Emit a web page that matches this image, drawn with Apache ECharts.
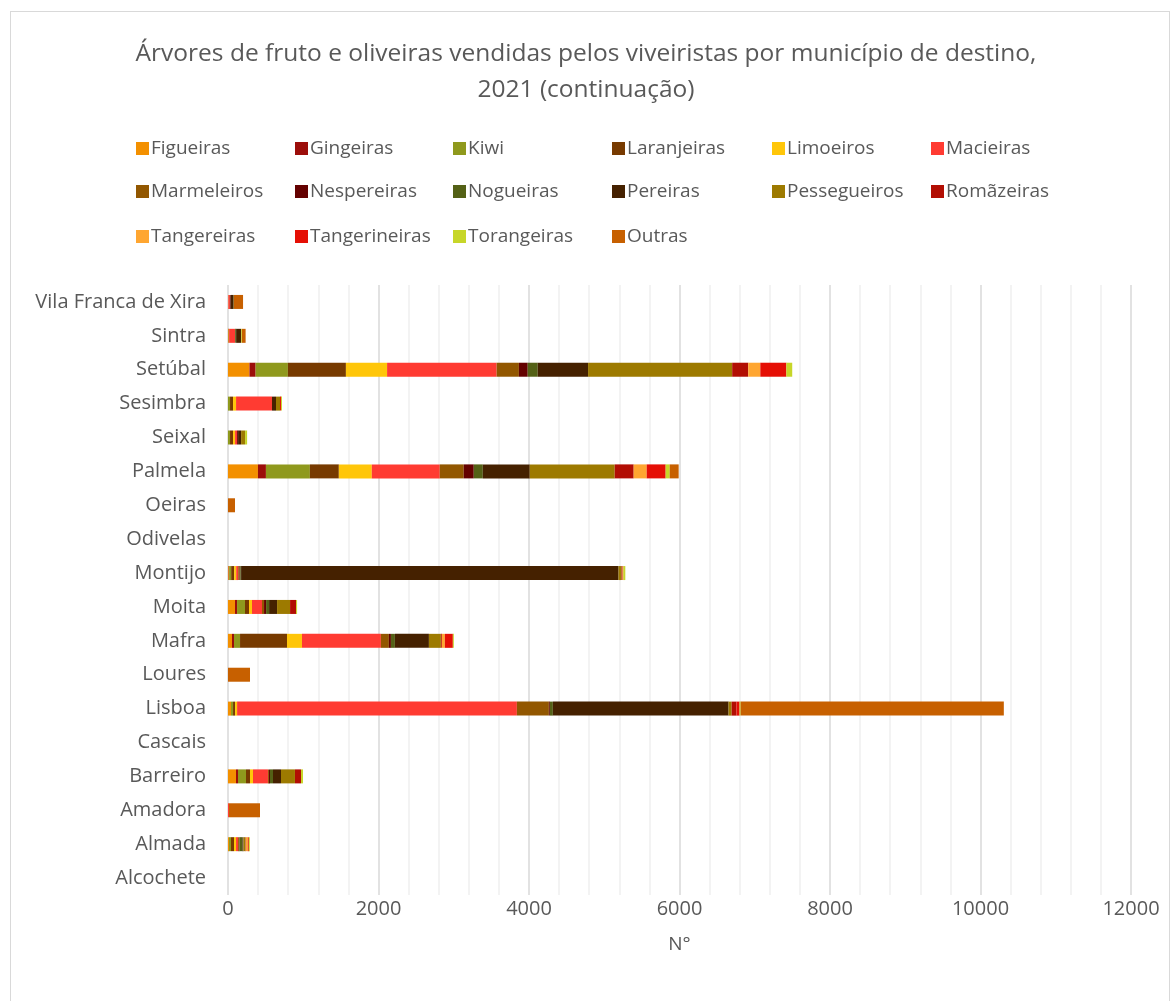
<!DOCTYPE html>
<html>
<head>
<meta charset="utf-8">
<title>Árvores de fruto e oliveiras</title>
<script src="https://cdn.jsdelivr.net/npm/echarts@6/dist/echarts.min.js"></script>
<style>
  html, body { margin: 0; padding: 0; background: #fff; }
  .frame {
    position: absolute; left: 10px; top: 11px;
    width: 1160px; height: 995px;
    border: 1px solid #d9d9d9; box-sizing: border-box;
  }
  #chart { position: absolute; left: 0; top: 0; width: 1172px; height: 1001px; }
</style>
</head>
<body>
<div class="frame"></div>
<div id="chart"></div>
<script>
  // municípios, de baixo para cima
  var municipios = ["Alcochete", "Almada", "Amadora", "Barreiro", "Cascais", "Lisboa", "Loures",
    "Mafra", "Moita", "Montijo", "Odivelas", "Oeiras", "Palmela", "Seixal", "Sesimbra",
    "Setúbal", "Sintra", "Vila Franca de Xira"];

  var figueiras     = [0, 13, 0, 106, 0, 40, 0, 53, 93, 10, 0, 0, 398, 0, 0, 285, 10, 5];
  var gingeiras     = [0, 0, 0, 27, 0, 0, 0, 27, 27, 5, 0, 0, 106, 0, 0, 82, 0, 0];
  var kiwi          = [0, 27, 0, 106, 0, 27, 0, 80, 106, 27, 0, 0, 584, 27, 27, 429, 0, 0];
  var laranjeiras   = [0, 40, 0, 53, 0, 27, 0, 624, 53, 40, 0, 0, 385, 40, 40, 771, 5, 0];
  var limoeiros     = [0, 27, 0, 40, 0, 27, 0, 199, 40, 27, 0, 0, 438, 27, 40, 547, 0, 0];
  var macieiras     = [0, 27, 13, 199, 0, 3718, 0, 1049, 133, 27, 0, 0, 903, 27, 478, 1456, 80, 20];
  var marmeleiros   = [0, 13, 0, 13, 0, 425, 0, 106, 27, 18, 0, 0, 319, 0, 0, 296, 0, 0];
  var nespereiras   = [0, 5, 0, 14, 0, 13, 0, 27, 27, 10, 0, 0, 133, 13, 0, 117, 0, 10];
  var nogueiras     = [0, 40, 0, 40, 0, 40, 0, 53, 40, 10, 0, 0, 120, 0, 0, 133, 13, 0];
  var pereiras      = [0, 13, 0, 106, 0, 2335, 0, 452, 106, 5016, 0, 0, 624, 40, 53, 669, 66, 40];
  var pessegueiros  = [0, 27, 0, 186, 0, 41, 0, 159, 173, 40, 0, 0, 1129, 53, 53, 1915, 0, 5];
  var romazeiras    = [0, 5, 0, 80, 0, 64, 0, 13, 80, 13, 0, 0, 252, 0, 0, 213, 0, 0];
  var tangereiras   = [0, 27, 0, 0, 0, 0, 0, 40, 0, 5, 0, 0, 173, 0, 0, 161, 0, 0];
  var tangerineiras = [0, 13, 0, 0, 0, 41, 0, 106, 0, 5, 0, 0, 252, 0, 13, 346, 0, 0];
  var torangeiras   = [0, 13, 0, 27, 0, 14, 0, 13, 13, 27, 0, 0, 53, 27, 13, 78, 10, 0];
  var outras        = [0, 0, 412, 0, 0, 3498, 292, 0, 0, 0, 0, 93, 120, 0, 0, 0, 50, 120];

  var especies = [
    ["Figueiras", figueiras, "#f39000"],
    ["Gingeiras", gingeiras, "#9c0e0a"],
    ["Kiwi", kiwi, "#8f991d"],
    ["Laranjeiras", laranjeiras, "#773a00"],
    ["Limoeiros", limoeiros, "#ffc609"],
    ["Macieiras", macieiras, "#ff3b32"],
    ["Marmeleiros", marmeleiros, "#925700"],
    ["Nespereiras", nespereiras, "#640100"],
    ["Nogueiras", nogueiras, "#546116"],
    ["Pereiras", pereiras, "#452100"],
    ["Pessegueiros", pessegueiros, "#9d7a00"],
    ["Romãzeiras", romazeiras, "#b20e03"],
    ["Tangereiras", tangereiras, "#ffa631"],
    ["Tangerineiras", tangerineiras, "#e50f05"],
    ["Torangeiras", torangeiras, "#c7d629"],
    ["Outras", outras, "#c76000"]
  ];

  var xMax = 12000;
  var xInterval = 2000;

  var FONT = "'Open Sans', 'Noto Sans', sans-serif";
  var GREY = "#595959";

  // legenda em grelha de 6 colunas, como no original
  var legCols = [131, 290, 448, 607, 767, 926];
  var legRows = [134, 177, 222];

  var legends = especies.map(function (e, i) {
    return {
      data: [e[0]],
      left: legCols[i % 6],
      top: legRows[Math.floor(i / 6)],
      itemWidth: 13,
      itemHeight: 13,
      itemGap: 5,
      icon: "rect",
      selectedMode: false,
      textStyle: { fontFamily: FONT, fontSize: 19, color: GREY, padding: [0, 0, 0, -3] }
    };
  });

  var chart = echarts.init(document.getElementById("chart"));
  chart.setOption({
    animation: false,
    color: especies.map(function (e) { return e[2]; }),
    title: {
      text: "Árvores de fruto e oliveiras vendidas pelos viveiristas por município de destino,\n2021 (continuação)",
      left: "center",
      top: 31,
      textStyle: { fontFamily: FONT, fontSize: 24.5, fontWeight: "normal", color: GREY, lineHeight: 36 }
    },
    legend: legends,
    grid: { left: 228, right: 41, top: 285, bottom: 106 },
    xAxis: {
      type: "value",
      min: 0,
      max: xMax,
      interval: xInterval,
      name: "N°",
      nameLocation: "middle",
      nameGap: 40,
      nameTextStyle: { fontFamily: FONT, fontSize: 19, color: GREY },
      axisLine: { show: false },
      axisTick: { show: false },
      axisLabel: {
        fontFamily: FONT, fontSize: 20, color: GREY, margin: 4,
        formatter: function (v) { return String(v); }
      },
      splitLine: { show: true, lineStyle: { color: "#d9d9d9", width: 1.5 } },
      minorTick: { show: false, splitNumber: 5 },
      minorSplitLine: { show: true, lineStyle: { color: "#efefef", width: 1.5 } }
    },
    yAxis: {
      type: "category",
      data: municipios,
      axisLine: { show: false },
      axisTick: { show: false },
      axisLabel: { fontFamily: FONT, fontSize: 20, color: GREY, margin: 22 }
    },
    series: especies.map(function (e) {
      return {
        name: e[0],
        type: "bar",
        stack: "total",
        barWidth: 14,
        data: e[1]
      };
    })
  });
</script>
</body>
</html>
